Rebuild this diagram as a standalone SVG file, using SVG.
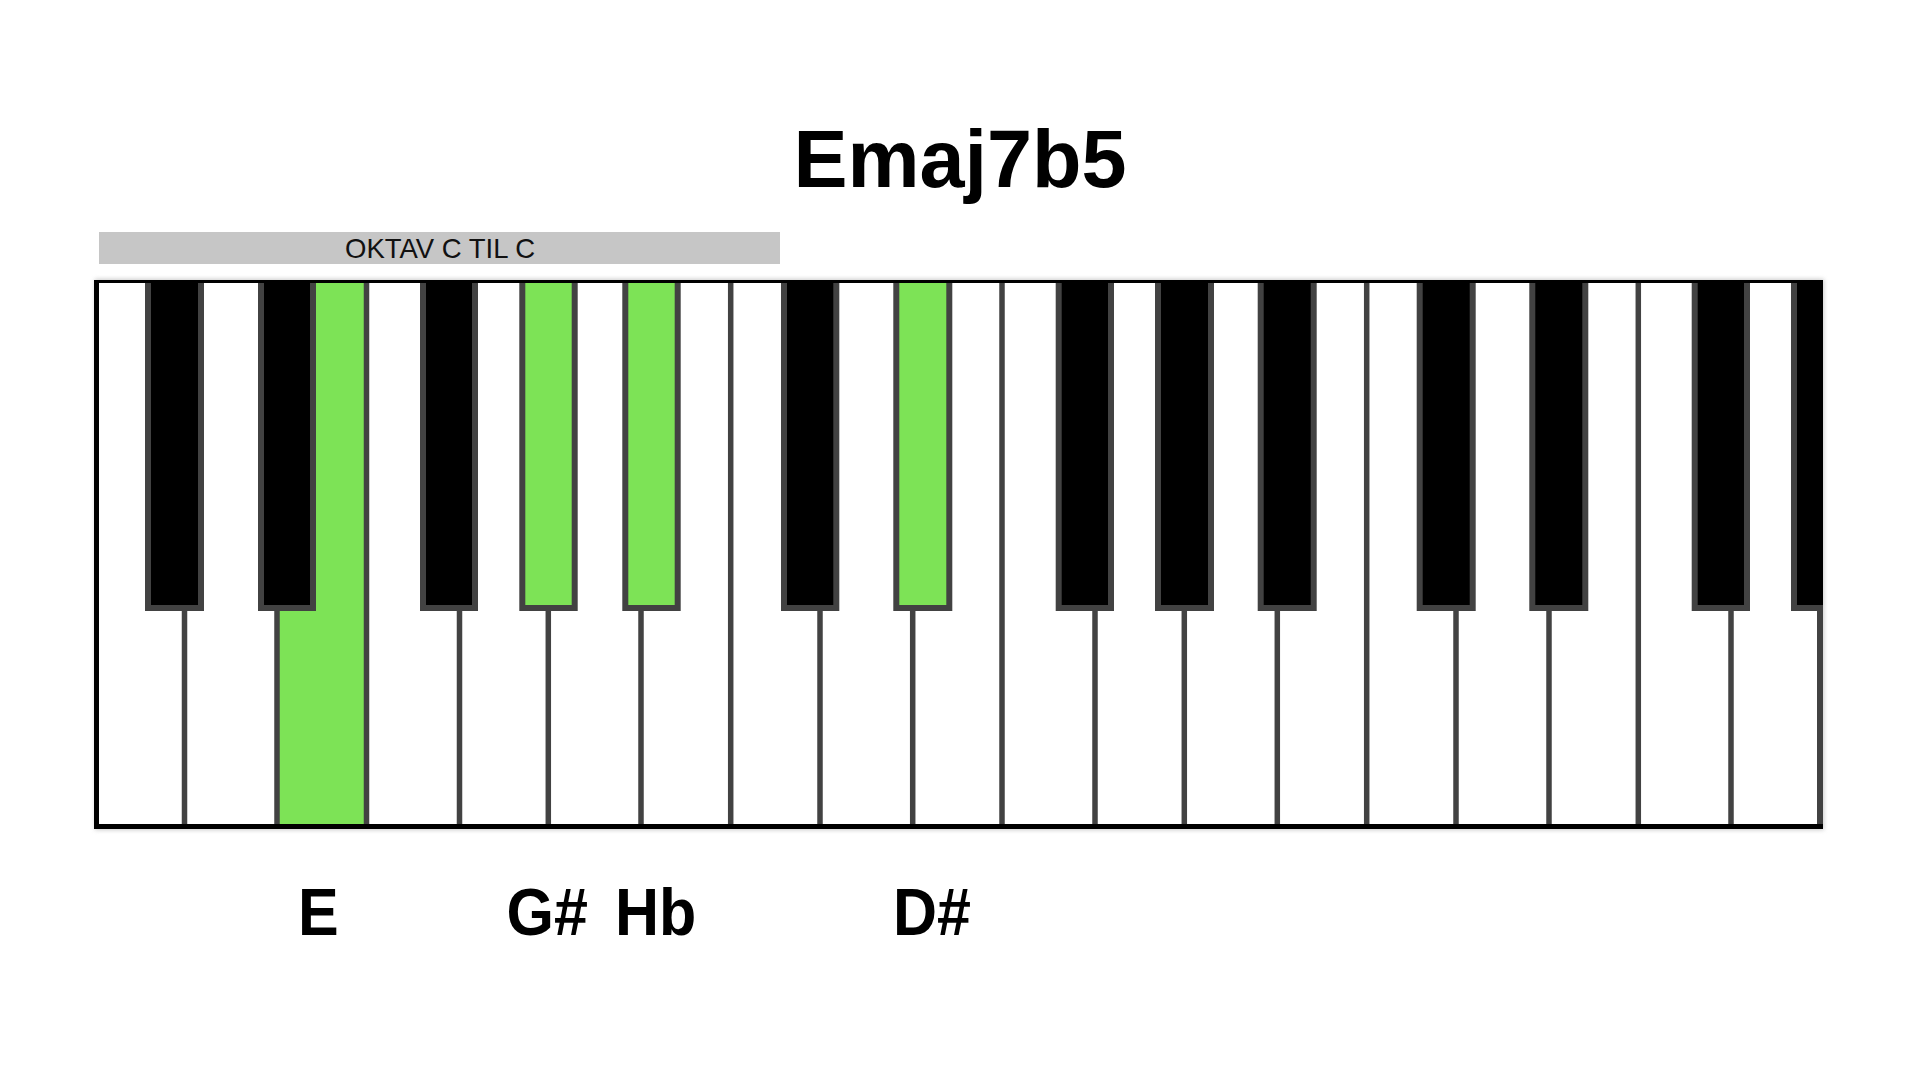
<svg xmlns="http://www.w3.org/2000/svg" width="1920" height="1080" viewBox="0 0 1920 1080">
  <style>
    .title { font-family: "Liberation Sans", Arial, sans-serif; font-weight: bold; font-size: 81px; fill: #000; }
    .lbl { font-family: "Liberation Sans", Arial, sans-serif; font-weight: bold; font-size: 61px; fill: #000; }
    .bar-text { font-family: "Liberation Sans", Arial, sans-serif; font-size: 27.5px; fill: #111; }
    .bk { fill: #000; stroke: #424242; stroke-width: 6; }
    .gk { fill: #7de356; stroke: #424242; stroke-width: 6; }
    .sep { stroke: #424242; stroke-width: 5.5; }
  </style>
  <defs>
    <clipPath id="kbclip">
      <rect x="96" y="281" width="1727" height="546"/>
    </clipPath>
    <filter id="shadow" x="-5%" y="-5%" width="110%" height="110%">
      <feGaussianBlur stdDeviation="2"/>
    </filter>
  </defs>
  <rect width="1920" height="1080" fill="#fff"/>

  <g id="title">
    <text class="title" x="960" y="187" text-anchor="middle">Emaj7b5</text>
  </g>

  <g id="octave-bar">
    <rect x="99" y="232" width="681" height="32" fill="#c6c6c6"/>
    <text class="bar-text" x="440" y="258" text-anchor="middle">OKTAV C TIL C</text>
  </g>

  <g id="keyboard">
    <rect x="95" y="279" width="1729" height="551" fill="#999" opacity="0.5" filter="url(#shadow)"/>
    <rect x="96" y="281" width="1727" height="546" fill="#fff"/>
    <g clip-path="url(#kbclip)">
      <g id="white-keys">
        <rect id="key-E" x="277" y="281" width="89.5" height="546" fill="#7de356"/>
      </g>
      <g id="separators">
        <line class="sep" x1="184.5" y1="600" x2="184.5" y2="827"/>
        <line class="sep" x1="277" y1="600" x2="277" y2="827"/>
        <line class="sep" x1="366.5" y1="281" x2="366.5" y2="827"/>
        <line class="sep" x1="459.5" y1="600" x2="459.5" y2="827"/>
        <line class="sep" x1="548.3" y1="600" x2="548.3" y2="827"/>
        <line class="sep" x1="641" y1="600" x2="641" y2="827"/>
        <line class="sep" x1="730.7" y1="281" x2="730.7" y2="827"/>
        <line class="sep" x1="820" y1="600" x2="820" y2="827"/>
        <line class="sep" x1="912.7" y1="600" x2="912.7" y2="827"/>
        <line class="sep" x1="1002" y1="281" x2="1002" y2="827"/>
        <line class="sep" x1="1095" y1="600" x2="1095" y2="827"/>
        <line class="sep" x1="1184.3" y1="600" x2="1184.3" y2="827"/>
        <line class="sep" x1="1277.3" y1="600" x2="1277.3" y2="827"/>
        <line class="sep" x1="1366.7" y1="281" x2="1366.7" y2="827"/>
        <line class="sep" x1="1456" y1="600" x2="1456" y2="827"/>
        <line class="sep" x1="1549" y1="600" x2="1549" y2="827"/>
        <line class="sep" x1="1638.3" y1="281" x2="1638.3" y2="827"/>
        <line class="sep" x1="1731" y1="600" x2="1731" y2="827"/>
        <line x1="1820" y1="281" x2="1820" y2="827" stroke="#424242" stroke-width="6"/>
      </g>
      <g id="black-keys">
        <rect class="bk" x="148" y="278" width="53" height="330"/>
        <rect class="bk" x="261" y="278" width="52" height="330"/>
        <rect class="bk" x="423" y="278" width="52" height="330"/>
        <rect id="key-Gs" class="gk" x="522.3" y="278" width="52.4" height="330"/>
        <rect id="key-Hb" class="gk" x="625.3" y="278" width="52.4" height="330"/>
        <rect class="bk" x="784" y="278" width="52.3" height="330"/>
        <rect id="key-Ds" class="gk" x="896.3" y="278" width="53" height="330"/>
        <rect class="bk" x="1058.7" y="278" width="52.3" height="330"/>
        <rect class="bk" x="1158" y="278" width="53" height="330"/>
        <rect class="bk" x="1260.7" y="278" width="53" height="330"/>
        <rect class="bk" x="1419.7" y="278" width="53" height="330"/>
        <rect class="bk" x="1532.3" y="278" width="53" height="330"/>
        <rect class="bk" x="1694.7" y="278" width="52.3" height="330"/>
        <rect class="bk" x="1794" y="278" width="53" height="330"/>
      </g>
    </g>
    <g id="border">
      <line x1="96.5" y1="280" x2="96.5" y2="829" stroke="#000" stroke-width="5"/>
      <line x1="94" y1="281.5" x2="1823" y2="281.5" stroke="#000" stroke-width="3"/>
      <line x1="94" y1="826.5" x2="1823" y2="826.5" stroke="#000" stroke-width="5"/>
    </g>
  </g>

  <g id="labels">
    <text class="lbl" transform="translate(298,935) scale(1,1.08)">E</text>
    <text class="lbl" transform="translate(506.5,935) scale(1,1.08)">G#</text>
    <text class="lbl" transform="translate(615,935) scale(1,1.08)">Hb</text>
    <text class="lbl" transform="translate(893,935) scale(1,1.08)">D#</text>
  </g>
</svg>
